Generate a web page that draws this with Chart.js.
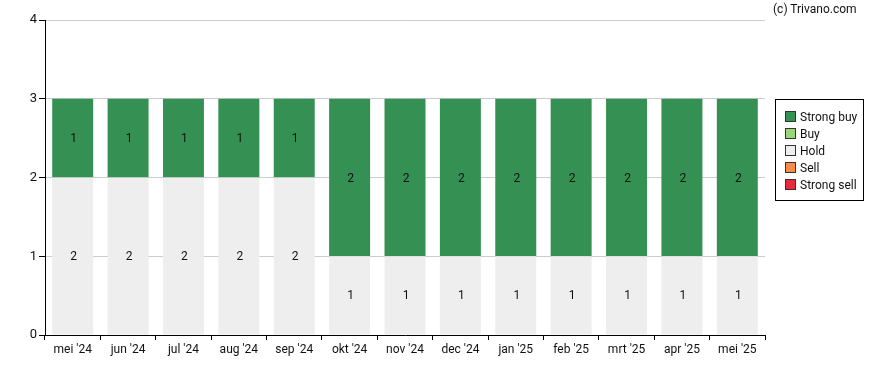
<!DOCTYPE html>
<html>
<head>
<meta charset="utf-8">
<script src="https://cdn.jsdelivr.net/npm/chart.js@4"></script>
<style>
  body { margin: 0; background: #fff; font-family: Roboto, sans-serif; }
  #wrap { position: relative; width: 888px; height: 370px; }
  #copy { position: absolute; left: 773px; top: 2px; font-size: 12px; color: #111; }
  #legend { position: absolute; left: 775px; top: 99px; width: 89px; height: 102px;
            border: 1px solid #000; box-sizing: border-box; padding: 11px 0 0 9px; }
  .item { font-size: 12px; color: #111; height: 17px; line-height: 13px; white-space: nowrap; }
  .item span { display: inline-block; width: 9px; height: 9px; border: 1px solid #333;
               margin-right: 4px; vertical-align: -1px; }
</style>
</head>
<body>
<div id="wrap">
  <canvas id="chart" width="888" height="370"></canvas>
  <div id="copy">(c) Trivano.com</div>
  <div id="legend"></div>
</div>
<script>
// Months and analyst counts per rating
const months = ["mei '24", "jun '24", "jul '24", "aug '24", "sep '24", "okt '24", "nov '24",
                "dec '24", "jan '25", "feb '25", "mrt '25", "apr '25", "mei '25"];
const strongBuy = [1, 1, 1, 1, 1, 2, 2, 2, 2, 2, 2, 2, 2];
const buy = [0, 0, 0, 0, 0, 0, 0, 0, 0, 0, 0, 0, 0];
const hold = [2, 2, 2, 2, 2, 1, 1, 1, 1, 1, 1, 1, 1];
const sell = [0, 0, 0, 0, 0, 0, 0, 0, 0, 0, 0, 0, 0];
const strongSell = [0, 0, 0, 0, 0, 0, 0, 0, 0, 0, 0, 0, 0];
const yTicks = [0, 1, 2, 3, 4];

const series = [
    { label: 'Strong sell', data: strongSell, color: '#e8283c' },
    { label: 'Sell', data: sell, color: '#f68b4c' },
    { label: 'Hold', data: hold, color: '#eeeeee' },
    { label: 'Buy', data: buy, color: '#98d677' },
    { label: 'Strong buy', data: strongBuy, color: '#359153' }
];

// HTML legend, top to bottom
const legend = document.getElementById('legend');
series.slice().reverse().forEach(s => {
    const div = document.createElement('div');
    div.className = 'item';
    div.innerHTML = '<span style="background:' + s.color + '"></span>' + s.label;
    legend.appendChild(div);
});

// Draw the count in the middle of each bar segment
const valueLabels = {
    id: 'valueLabels',
    afterDatasetsDraw(chart) {
        const ctx = chart.ctx;
        ctx.save();
        ctx.font = '12px Roboto, sans-serif';
        ctx.fillStyle = '#111';
        ctx.textAlign = 'center';
        ctx.textBaseline = 'middle';
        chart.data.datasets.forEach((ds, i) => {
            chart.getDatasetMeta(i).data.forEach((bar, j) => {
                const v = ds.data[j];
                if (!v) return;
                ctx.fillText(String(v), bar.x + 1, (bar.y + bar.base) / 2 + 1);
            });
        });
        ctx.restore();
    }
};

new Chart(document.getElementById('chart').getContext('2d'), {
    type: 'bar',
    data: {
        labels: months,
        datasets: series.map(s => ({
            label: s.label,
            data: s.data,
            backgroundColor: s.color,
            borderWidth: 0,
            barPercentage: 0.74,
            categoryPercentage: 1
        }))
    },
    options: {
        responsive: false,
        animation: false,
        layout: { padding: { top: 20, right: 123, left: 0, bottom: 0 } },
        plugins: {
            legend: { display: false },
            tooltip: { enabled: false }
        },
        scales: {
            x: {
                stacked: true,
                afterFit: s => { s.height = 35; },
                grid: { drawOnChartArea: false, drawTicks: true, tickLength: 5, tickColor: '#000' },
                border: { color: '#000', width: 1 },
                ticks: { color: '#111', font: { size: 12, family: 'Roboto' }, padding: 3, maxRotation: 0 }
            },
            y: {
                stacked: true,
                min: 0,
                max: 4,
                afterFit: s => { s.width = 45; },
                afterBuildTicks: s => { s.ticks = yTicks.map(v => ({ value: v })); },
                grid: { color: '#cccccc', tickLength: 6, tickColor: '#000' },
                border: { color: '#000', width: 1 },
                ticks: { color: '#111', font: { size: 13, family: 'Roboto' }, padding: 2 }
            }
        }
    },
    plugins: [valueLabels]
});
</script>
</body>
</html>
